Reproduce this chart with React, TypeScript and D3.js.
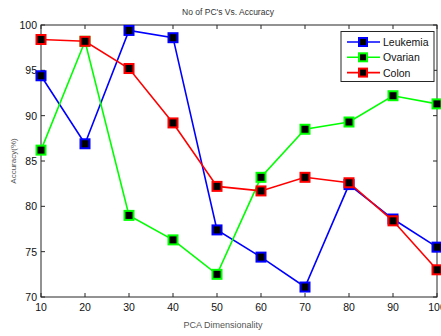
import React from 'react';
import * as d3 from 'd3';

const dims = [10, 20, 30, 40, 50, 60, 70, 80, 90, 100];
const leukemia = [94.4, 86.9, 99.4, 98.6, 77.4, 74.4, 71.1, 82.4, 78.6, 75.5];
const ovarian = [86.2, 98.2, 79.0, 76.3, 72.5, 83.2, 88.5, 89.3, 92.2, 91.3];
const colon = [98.4, 98.2, 95.2, 89.2, 82.2, 81.7, 83.2, 82.6, 78.4, 73.0];
const seriesNames = ['Leukemia', 'Ovarian', 'Colon'];
const seriesColors = ['#0000ff', '#00ff00', '#ff0000'];
const yTicks = [70, 75, 80, 85, 90, 95, 100];

const W = 441;
const H = 336;
const m = { left: 41, right: 437, top: 25, bottom: 297 };

const App = () => {
  const x = d3.scaleLinear().domain([10, 100]).range([m.left, m.right]);
  const y = d3.scaleLinear().domain([70, 100]).range([m.bottom, m.top]);
  const line = d3
    .line<number>()
    .x((d, i) => x(dims[i]))
    .y((d) => y(d));
  const all = [leukemia, ovarian, colon];
  const font = 'Liberation Sans, Arial, sans-serif';
  const axisColor = '#262626';

  return (
    <svg
      width={W}
      height={H}
      style={{ position: 'absolute', left: 0, top: 0, background: '#fff' }}
      fontFamily={font}
    >
      <rect width={W} height={H} fill="#fff" />
      <text x={228} y={15} fontSize={8.5} fill="#333" textAnchor="middle">
        No of PC's Vs. Accuracy
      </text>
      {/* frame */}
      <rect
        x={m.left}
        y={m.top}
        width={m.right - m.left}
        height={m.bottom - m.top}
        fill="none"
        stroke={axisColor}
        strokeWidth={1}
      />
      {dims.map((d) => (
        <g key={'xt' + d}>
          <line x1={x(d)} x2={x(d)} y1={m.bottom} y2={m.bottom - 4} stroke={axisColor} />
          <line x1={x(d)} x2={x(d)} y1={m.top} y2={m.top + 4} stroke={axisColor} />
          <text x={x(d)} y={311} fontSize={10.5} fill="#111" textAnchor="middle">
            {d}
          </text>
        </g>
      ))}
      {yTicks.map((t) => (
        <g key={'yt' + t}>
          <line x1={m.left} x2={m.left + 4} y1={y(t)} y2={y(t)} stroke={axisColor} />
          <line x1={m.right} x2={m.right - 4} y1={y(t)} y2={y(t)} stroke={axisColor} />
          <text x={37} y={y(t) + 4} fontSize={10.5} fill="#111" textAnchor="end">
            {t}
          </text>
        </g>
      ))}
      <text
        transform={`translate(16 ${(m.top + m.bottom) / 2}) rotate(-90)`}
        fontSize={8}
        fill="#555"
        textAnchor="middle"
      >
        Accuracy(%)
      </text>
      <text x={223} y={328} fontSize={9} fill="#555" textAnchor="middle">
        PCA Dimensionality
      </text>
      {all.map((s, k) => (
        <g key={'s' + k}>
          <path d={line(s) || ''} fill="none" stroke={seriesColors[k]} strokeWidth={1.6} />
          {s.map((v, i) => (
            <rect
              key={i}
              x={x(dims[i]) - 4.5}
              y={y(v) - 4.5}
              width={9}
              height={9}
              fill="#000"
              stroke={seriesColors[k]}
              strokeWidth={2}
            />
          ))}
        </g>
      ))}
      {/* legend */}
      <g>
        <rect x={341} y={31.5} width={93} height={50} fill="#fff" stroke={axisColor} />
        {seriesNames.map((n, k) => {
          const ly = 42 + k * 15.3;
          return (
            <g key={n}>
              <line x1={347} x2={380} y1={ly} y2={ly} stroke={seriesColors[k]} strokeWidth={1.6} />
              <rect
                x={363 - 4}
                y={ly - 4}
                width={8}
                height={8}
                fill="#000"
                stroke={seriesColors[k]}
                strokeWidth={2}
              />
              <text x={383} y={ly + 4} fontSize={10.5} fill="#111">
                {n}
              </text>
            </g>
          );
        })}
      </g>
    </svg>
  );
};

export default App;
